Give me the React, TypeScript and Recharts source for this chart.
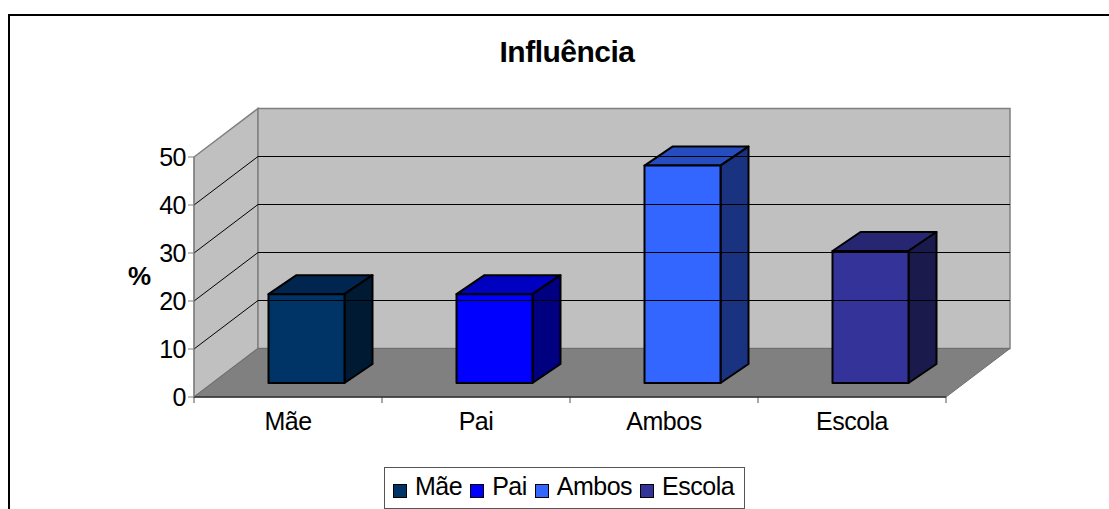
import { Bar, BarChart, Legend, ReferenceArea, ReferenceLine, XAxis, YAxis } from "recharts"

const categories = ["Mãe", "Pai", "Ambos", "Escola"]
const values = [18.5, 18.5, 45.3, 27.5]
const frontColors = ["#003366", "#0000ff", "#3366ff", "#333399"]
const topColors = ["#002650", "#0000c0", "#264dc0", "#262673"]
const sideColors = ["#001a33", "#000080", "#1a3380", "#1a1a4d"]
const yTicks = [0, 10, 20, 30, 40, 50]
const gridValues = [10, 20, 30, 40]

const chartData = categories.map((name, i) => ({
  name,
  value: values[i],
  front: frontColors[i],
  top: topColors[i],
  side: sideColors[i],
}))

const font = "'Liberation Sans', Arial, sans-serif"
const textSpacing = "-0.5px"

// depth of the box floor, and of one bar sitting in the middle of it
const wallDx = 64
const wallDy = -48.5
const barShiftX = 18.5
const barShiftY = -14
const barDx = 28
const barDy = -19

const pts = (list: number[][]) => list.map((p) => p.join(",")).join(" ")

const Walls = ({ x, y, width, height }: any) => {
  const bottom = y + height
  const bandWidth = width / categories.length
  return (
    <g>
      <polygon
        points={pts([[x, y], [x + wallDx, y + wallDy], [x + wallDx, bottom + wallDy], [x, bottom]])}
        fill="#c0c0c0"
        stroke="#808080"
        strokeWidth={1.5}
      />
      <rect
        x={x + wallDx}
        y={y + wallDy}
        width={width}
        height={height}
        fill="#c0c0c0"
        stroke="#808080"
        strokeWidth={1.5}
      />
      <polygon
        points={pts([
          [x, bottom],
          [x + wallDx, bottom + wallDy],
          [x + width + wallDx, bottom + wallDy],
          [x + width, bottom],
        ])}
        fill="#808080"
        stroke="#6e6e6e"
      />
      {categories.concat("").map((_, i) => (
        <line
          key={i}
          x1={x + i * bandWidth}
          x2={x + i * bandWidth}
          y1={bottom}
          y2={bottom + 6}
          stroke="#555"
        />
      ))}
      <line x1={x} x2={x + width} y1={bottom} y2={bottom} stroke="#333" strokeWidth={1.5} />
    </g>
  )
}

const GridLine = ({ x1, y1, x2, y2 }: any) => (
  <polyline
    points={pts([[x1, y1], [x1 + wallDx, y1 + wallDy], [x2 + wallDx, y2 + wallDy]])}
    fill="none"
    stroke="#000"
    strokeWidth={1}
  />
)

const Box3D = ({ x, y, width, height, payload }: any) => {
  const left = x + barShiftX
  const right = left + width
  const top = y + barShiftY
  const bottom = top + height
  return (
    <g stroke="#000" strokeWidth={2} strokeLinejoin="round">
      <polygon
        points={pts([[left, top], [left + barDx, top + barDy], [right + barDx, top + barDy], [right, top]])}
        fill={payload.top}
      />
      <polygon
        points={pts([[right, top], [right + barDx, top + barDy], [right + barDx, bottom + barDy], [right, bottom]])}
        fill={payload.side}
      />
      <rect x={left} y={top} width={width} height={height} fill={payload.front} />
    </g>
  )
}

const LegendBox = () => (
  <div
    style={{
      boxSizing: "border-box",
      width: 361,
      height: 42,
      border: "1.5px solid #555",
      background: "#fff",
      display: "flex",
      alignItems: "center",
      paddingLeft: 8,
      fontFamily: font,
      fontSize: 25,
      letterSpacing: textSpacing,
      color: "#000",
    }}
  >
    {categories.map((name, i) => (
      <span key={name} style={{ display: "flex", alignItems: "center", marginRight: 8 }}>
        <span
          style={{
            boxSizing: "border-box",
            width: 14,
            height: 14,
            marginTop: 6,
            marginRight: 8,
            background: frontColors[i],
            border: "1.5px solid #000",
          }}
        />
        <span style={{ position: "relative", top: -2 }}>{name}</span>
      </span>
    ))}
  </div>
)

export default function App() {
  return (
    <div style={{ position: "absolute", left: 0, top: 0, width: 1109, height: 509, overflow: "hidden", background: "#fff" }}>
      <div
        style={{
          position: "absolute",
          left: 8,
          top: 14,
          width: 1101,
          height: 495,
          boxSizing: "border-box",
          borderLeft: "2px solid #000",
          borderTop: "2px solid #000",
        }}
      />
      <div
        style={{
          position: "absolute",
          left: 0,
          width: 1134,
          top: 35,
          textAlign: "center",
          fontFamily: font,
          fontWeight: "bold",
          fontSize: 30,
          letterSpacing: "-0.5px",
        }}
      >
        Influência
      </div>
      <div
        style={{
          position: "absolute",
          left: 128,
          top: 261,
          fontFamily: font,
          fontWeight: "bold",
          fontSize: 26,
        }}
      >
        %
      </div>
      <BarChart
        width={1109}
        height={509}
        data={chartData}
        margin={{ top: 157, right: 163, bottom: 0, left: 0 }}
        style={{ position: "absolute", left: 0, top: 0 }}
      >
        <ReferenceArea y1={0} y2={50} shape={<Walls />} ifOverflow="visible" />
        {gridValues.map((v) => (
          <ReferenceLine key={v} y={v} shape={<GridLine />} />
        ))}
        <XAxis
          dataKey="name"
          height={112}
          axisLine={false}
          tickLine={false}
          tickMargin={9}
          tick={{ fill: "#000", fontSize: 25, fontFamily: font, letterSpacing: textSpacing }}
        />
        <YAxis
          width={194}
          domain={[0, 50]}
          ticks={yTicks}
          tickSize={6}
          tickMargin={2}
          stroke="#808080"
          tick={{ fill: "#000", fontSize: 25, fontFamily: font, letterSpacing: textSpacing }}
        />
        <Legend
          layout="horizontal"
          verticalAlign="middle"
          align="center"
          content={<LegendBox />}
          wrapperStyle={{ left: 384, top: 467, width: 361, height: 42 }}
        />
        <Bar dataKey="value" barSize={76} shape={<Box3D />} isAnimationActive={false} />
      </BarChart>
    </div>
  )
}
